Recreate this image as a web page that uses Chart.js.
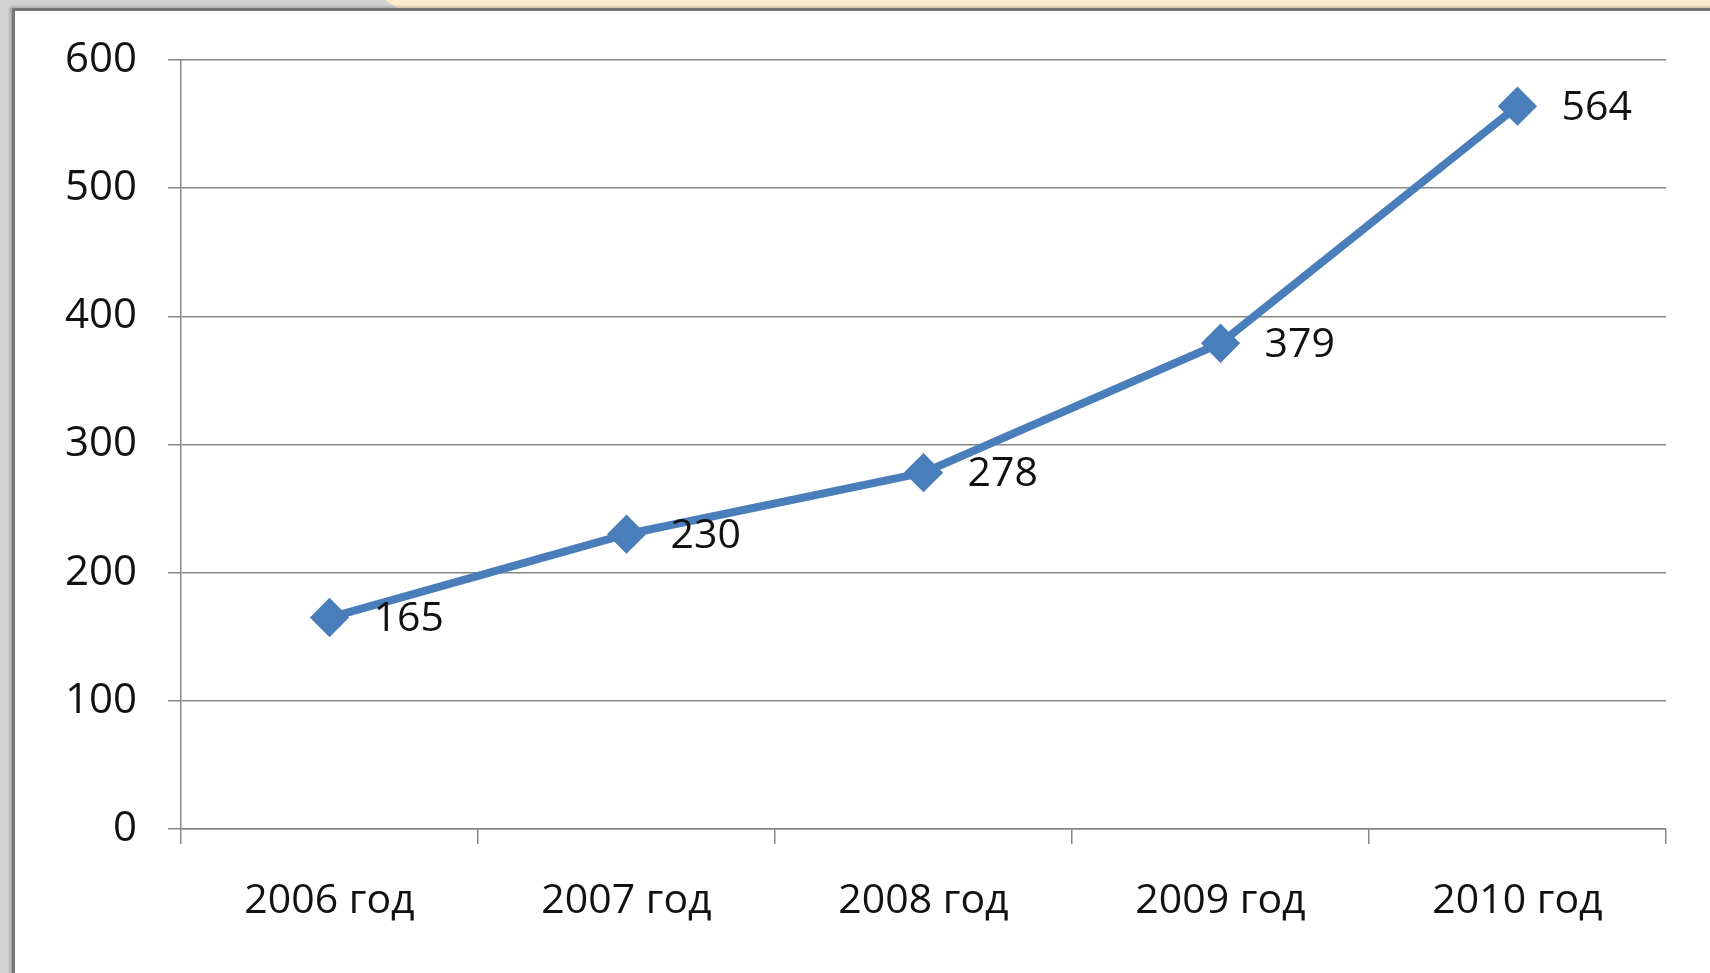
<!DOCTYPE html>
<html>
<head>
<meta charset="utf-8">
<script src="https://cdn.jsdelivr.net/npm/chart.js@4"></script>
<style>
  html, body { margin: 0; padding: 0; }
  body { width: 1710px; height: 973px; background: #d2d2d2; position: relative; overflow: hidden; }
  #ribbon {
    position: absolute; left: 385px; top: 0; width: 1325px; height: 9px;
    background: #fcebcc;
    clip-path: polygon(0 0, 100% 0, 100% 100%, 14px 100%);
  }
  #panel {
    position: absolute; left: 12px; top: 8px; width: 1720px; height: 980px;
    background: #fff;
    border-left: 3px solid #767676; border-top: 3px solid #767676;
    box-shadow: -2px -1px 3px rgba(0,0,0,0.25);
  }
  #wrap { position: absolute; left: 0; top: 0; width: 1710px; height: 973px; }
</style>
</head>
<body>
<div id="ribbon"></div>
<div id="panel"></div>
<div id="wrap"><canvas id="grafico" width="1710" height="973"></canvas></div>
<script>
const anos = ["2006 год", "2007 год", "2008 год", "2009 год", "2010 год"];
const valores = [165, 230, 278, 379, 564];
const escalaY = [0, 100, 200, 300, 400, 500, 600];

const fonte = "'Open Sans', 'Liberation Sans', sans-serif";
const azul = "#4a7ebb";
const cinza = "#868686";

// rótulos de valor à direita de cada ponto
const rotulos = {
  id: "rotulos",
  afterDatasetsDraw(chart) {
    const ctx = chart.ctx;
    const meta = chart.getDatasetMeta(0);
    ctx.save();
    ctx.font = "41px " + fonte;
    ctx.fillStyle = "#111";
    ctx.textAlign = "left";
    ctx.textBaseline = "middle";
    meta.data.forEach((p, i) => {
      ctx.fillText(String(valores[i]), p.x + 44, p.y + 2);
    });
    ctx.restore();
  }
};

new Chart(document.getElementById("grafico"), {
  type: "line",
  data: {
    labels: anos,
    datasets: [{
      data: valores,
      borderColor: azul,
      backgroundColor: azul,
      borderWidth: 8,
      pointStyle: "rectRot",
      pointRadius: 14,
      pointHoverRadius: 14,
      tension: 0
    }]
  },
  options: {
    responsive: false,
    animation: false,
    layout: { padding: { left: 0, top: 60, right: 44, bottom: 44 } },
    plugins: {
      legend: { display: false },
      tooltip: { enabled: false }
    },
    scales: {
      x: {
        offset: true,
        afterFit: s => { s.height = 100; },
        grid: {
          offset: true,
          drawOnChartArea: false,
          color: cinza,
          lineWidth: 1.5,
          tickLength: 15
        },
        border: { color: cinza, width: 1.5 },
        ticks: {
          color: "#111",
          padding: 33,
          font: { family: fonte, size: 41 }
        }
      },
      y: {
        min: 0,
        max: 600,
        afterFit: s => { s.width = 181; },
        afterBuildTicks: s => { s.ticks = escalaY.map(v => ({ value: v })); },
        grid: {
          color: cinza,
          lineWidth: 1.5,
          tickLength: 13
        },
        border: { color: cinza, width: 1.5 },
        ticks: {
          color: "#111",
          padding: 31,
          font: { family: fonte, size: 42 }
        }
      }
    }
  },
  plugins: [rotulos]
});
</script>
</body>
</html>
